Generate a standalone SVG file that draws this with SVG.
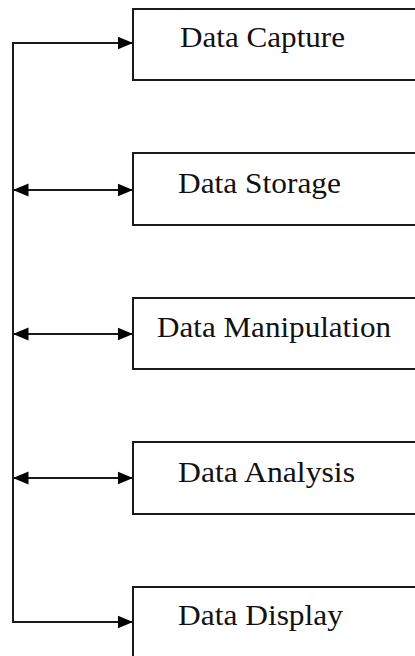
<svg xmlns="http://www.w3.org/2000/svg" width="415" height="656" viewBox="0 0 415 656">
  <style>
    .box { fill: #ffffff; stroke: #1a1a1a; stroke-width: 2; }
    .label { font-family: "Liberation Serif", "Times New Roman", serif; font-size: 29px; fill: #111111; }
    .wire { fill: none; stroke: #1a1a1a; stroke-width: 2; }
    .arrow-end { marker-end: url(#head); }
    .arrow-both { marker-start: url(#head); marker-end: url(#head); }
  </style>
  <defs>
    <marker id="head" markerUnits="userSpaceOnUse" markerWidth="17" markerHeight="16" viewBox="0 -8 17 16" refX="15.5" refY="0" orient="auto-start-reverse">
      <path d="M0,-6.5 L15.5,0 L0,6.5 Z" fill="#000000"/>
    </marker>
  </defs>

  <rect width="415" height="656" fill="#ffffff"/>

  <g id="connectors">
    <path class="wire" d="M13,43 V622"/>
    <path class="wire arrow-end" d="M12,43 H133"/>
    <path class="wire arrow-both" d="M13,190 H133"/>
    <path class="wire arrow-both" d="M13,334 H133"/>
    <path class="wire arrow-both" d="M13,478 H133"/>
    <path class="wire arrow-end" d="M12,622 H133"/>
  </g>

  <g id="data-capture">
    <rect class="box" x="133" y="9" width="300" height="71"/>
    <text class="label" x="180" y="47" textLength="165" lengthAdjust="spacingAndGlyphs">Data Capture</text>
  </g>

  <g id="data-storage">
    <rect class="box" x="133" y="153" width="300" height="72"/>
    <text class="label" x="178" y="193" textLength="163" lengthAdjust="spacingAndGlyphs">Data Storage</text>
  </g>

  <g id="data-manipulation">
    <rect class="box" x="133" y="298" width="300" height="71"/>
    <text class="label" x="157" y="337" textLength="234" lengthAdjust="spacingAndGlyphs">Data Manipulation</text>
  </g>

  <g id="data-analysis">
    <rect class="box" x="133" y="442" width="300" height="72"/>
    <text class="label" x="178" y="482" textLength="177" lengthAdjust="spacingAndGlyphs">Data Analysis</text>
  </g>

  <g id="data-display">
    <rect class="box" x="133" y="587" width="300" height="100"/>
    <text class="label" x="178" y="625" textLength="165" lengthAdjust="spacingAndGlyphs">Data Display</text>
  </g>
</svg>
